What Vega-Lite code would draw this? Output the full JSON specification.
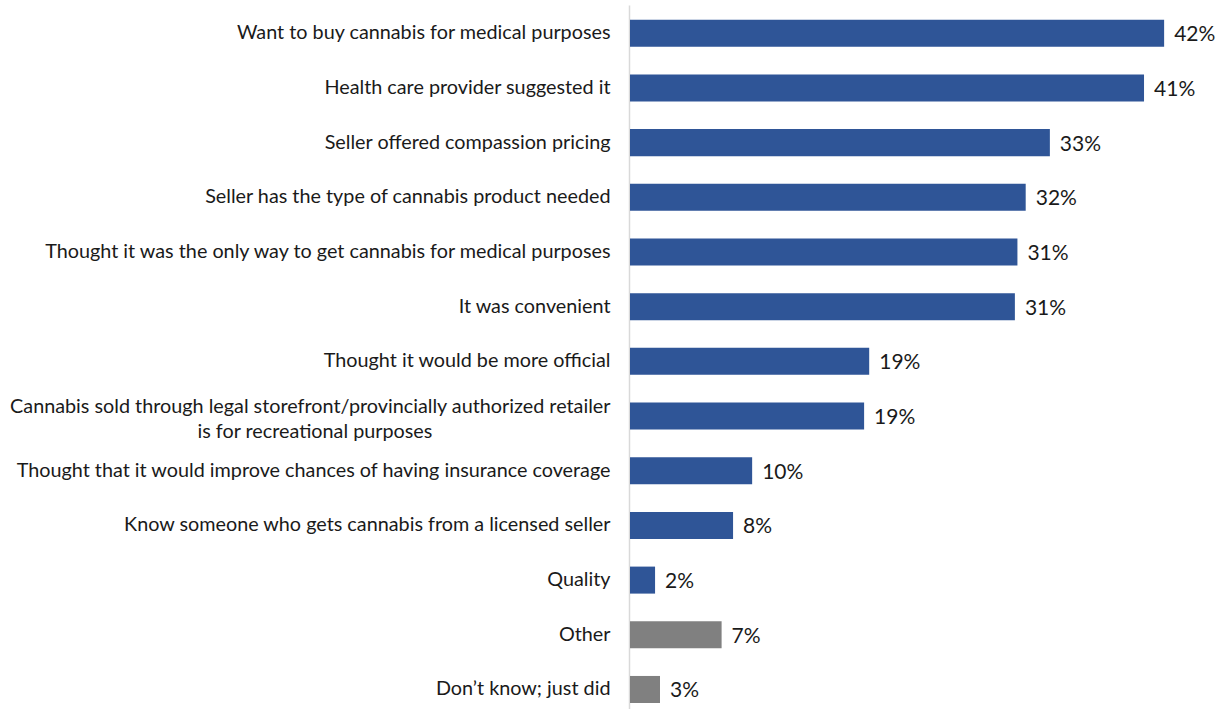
{
  "$schema": "https://vega.github.io/schema/vega-lite/v6.json",
  "width": 598,
  "height": 704,
  "autosize": {"type": "none"},
  "padding": {"left": 630, "top": 5, "right": 0, "bottom": 0},
  "background": "white",
  "config": {"view": {"stroke": null}, "font": "Lato"},
  "data": {
    "values": [
      {"reason": "Want to buy cannabis for medical purposes", "pct": 41.98, "label": "42%", "group": "main"},
      {"reason": "Health care provider suggested it", "pct": 40.4, "label": "41%", "group": "main"},
      {"reason": "Seller offered compassion pricing", "pct": 33.0, "label": "33%", "group": "main"},
      {"reason": "Seller has the type of cannabis product needed", "pct": 31.1, "label": "32%", "group": "main"},
      {"reason": "Thought it was the only way to get cannabis for medical purposes", "pct": 30.45, "label": "31%", "group": "main"},
      {"reason": "It was convenient", "pct": 30.25, "label": "31%", "group": "main"},
      {"reason": "Thought it would be more official", "pct": 18.8, "label": "19%", "group": "main"},
      {"reason": ["Cannabis sold through legal storefront/provincially authorized retailer", "is for recreational purposes\u2003\u2003\u2003\u2003\u2003\u2003\u2003\u2003\u2003\u2003\u2003\u2002\u00a0\u2060"], "pct": 18.4, "label": "19%", "group": "main"},
      {"reason": "Thought that it would improve chances of having insurance coverage", "pct": 9.6, "label": "10%", "group": "main"},
      {"reason": "Know someone who gets cannabis from a licensed seller", "pct": 8.1, "label": "8%", "group": "main"},
      {"reason": "Quality", "pct": 1.97, "label": "2%", "group": "main"},
      {"reason": "Other", "pct": 7.2, "label": "7%", "group": "other"},
      {"reason": "Don’t know; just did", "pct": 2.36, "label": "3%", "group": "other"}
    ]
  },
  "encoding": {
    "y": {
      "field": "reason",
      "type": "nominal",
      "sort": null,
      "title": null,
      "scale": {"paddingInner": 0.506, "paddingOuter": 0.19, "align": 0.71},
      "axis": {
        "domain": true,
        "domainColor": "#D9D9D9",
        "domainWidth": 1.5,
        "offset": 1,
        "ticks": false,
        "labelPadding": 19,
        "labelFontSize": 19.8,
        "labelColor": "#1a1a1a",
        "labelLimit": 700,
        "labelLineHeight": 25,
        "labelOffset": {"condition": {"test": "isArray(datum.value)", "value": -9}, "value": 0},
        "grid": false
      }
    },
    "x": {
      "field": "pct",
      "type": "quantitative",
      "scale": {"domain": [0, 47]},
      "axis": null
    }
  },
  "layer": [
    {
      "mark": {"type": "bar"},
      "encoding": {
        "color": {
          "field": "group",
          "type": "nominal",
          "scale": {"domain": ["main", "other"], "range": ["#2F5597", "#808080"]},
          "legend": null
        }
      }
    },
    {
      "mark": {"type": "text", "align": "left", "baseline": "middle", "dx": 10, "dy": 2, "fontSize": 21, "color": "#1a1a1a"},
      "encoding": {
        "text": {"field": "label", "type": "nominal"}
      }
    }
  ]
}
